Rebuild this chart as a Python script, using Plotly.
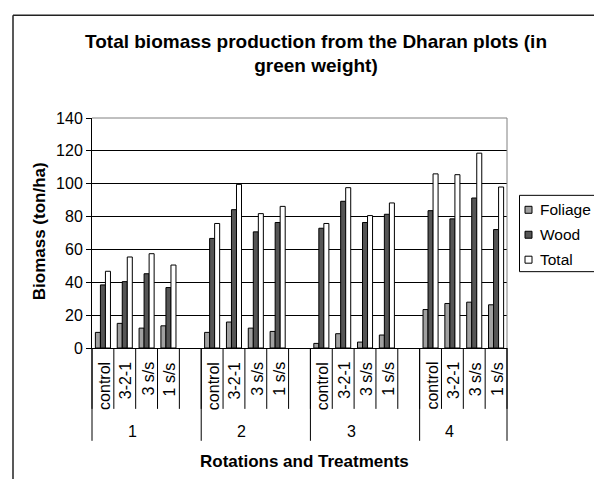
import plotly.graph_objects as go

# ---------------- data ----------------
rotations = ["1", "2", "3", "4"]
treatments = ["control", "3-2-1", "3 s/s", "1 s/s"]

foliage = [9.5, 15.0, 12.1, 13.5,
           9.5, 15.8, 12.1, 10.1,
           2.8, 8.7, 3.6, 7.9,
           23.4, 27.1, 27.9, 26.3]
wood = [38.4, 40.4, 45.2, 36.8,
        66.7, 84.2, 70.7, 76.4,
        72.9, 89.3, 76.4, 81.4,
        83.6, 78.6, 91.3, 72.1]
total = [46.7, 55.4, 57.4, 50.5,
         75.8, 99.6, 81.8, 86.2,
         75.8, 97.6, 80.6, 88.3,
         106.0, 105.5, 118.6, 98.0]

series_names = ["Foliage", "Wood", "Total"]
series_colors = ["#a0a0a0", "#555555", "#ffffff"]

# ---------------- categories (blank spacer slot after rotations 1-3) ----------------
cat_keys = []      # data categories (16)
all_slots = []     # axis slots (19) including blank spacers
slot_labels = []
group_slots = []   # (first index, count) for each rotation
for gi, r in enumerate(rotations):
    start = len(all_slots)
    for t in treatments:
        k = f"{r}|{t}"
        cat_keys.append(k)
        all_slots.append(k)
        slot_labels.append(t)
    if gi < len(rotations) - 1:
        all_slots.append(f"{r}|")
        slot_labels.append("")
    group_slots.append((start, len(all_slots) - start))

n_slots = len(all_slots)

# ---------------- geometry (pixels) ----------------
W, H = 594, 479
ML, MR, MT, MB = 92, 87, 118, 130.5
PW = W - ML - MR
PH = H - MT - MB

def px_x(p):
    return (p - ML) / PW

def px_y(p):
    return (H - MB - p) / PH

FONT = "Liberation Sans, Arial, sans-serif"

fig = go.Figure()
for name, vals, col in zip(series_names, [foliage, wood, total], series_colors):
    fig.add_trace(go.Bar(
        x=cat_keys, y=vals, name=name, showlegend=False,
        marker=dict(color=col, line=dict(color="black", width=1)),
    ))

shapes = []
# category dividers
for b in range(n_slots + 1):
    xf = b / n_slots
    shapes.append(dict(type="line", xref="paper", yref="paper",
                       x0=xf, x1=xf, y0=0, y1=-61 / PH,
                       line=dict(color="black", width=1)))
# group dividers
bounds = [s for s, c in group_slots] + [n_slots]
for b in bounds:
    xf = b / n_slots
    shapes.append(dict(type="line", xref="paper", yref="paper",
                       x0=xf, x1=xf, y0=0, y1=-93 / PH,
                       line=dict(color="black", width=1)))
# plot area border (top / right, gray)
shapes.append(dict(type="line", xref="paper", yref="paper", x0=0, x1=1, y0=1, y1=1,
                   line=dict(color="#808080", width=1), layer="above"))
shapes.append(dict(type="line", xref="paper", yref="paper", x0=1, x1=1, y0=0, y1=1,
                   line=dict(color="#808080", width=1), layer="above"))
# chart area border (top / left)
shapes.append(dict(type="line", xref="paper", yref="paper",
                   x0=px_x(13), x1=px_x(W + 10), y0=px_y(15), y1=px_y(15),
                   line=dict(color="#222222", width=1.5)))
shapes.append(dict(type="line", xref="paper", yref="paper",
                   x0=px_x(13), x1=px_x(13), y0=px_y(15), y1=px_y(H + 10),
                   line=dict(color="#222222", width=1.5)))

# legend box and swatches
shapes.append(dict(type="rect", xref="paper", yref="paper",
                   x0=px_x(519.5), x1=px_x(W + 10), y0=px_y(272), y1=px_y(195.5),
                   line=dict(color="black", width=1), fillcolor="white"))
leg_y = [210, 235, 260]
for ly, col in zip(leg_y, series_colors):
    shapes.append(dict(type="rect", xref="paper", yref="paper",
                       x0=px_x(525), x1=px_x(532), y0=px_y(ly + 3.5), y1=px_y(ly - 3.5),
                       line=dict(color="black", width=1), fillcolor=col))

annotations = []
for ly, name in zip(leg_y, series_names):
    annotations.append(dict(
        x=px_x(538.5), xref="paper", y=px_y(ly), yref="paper", text=name,
        showarrow=False, xanchor="left", yanchor="middle", borderpad=0,
        font=dict(family=FONT, size=15.5, color="black")))
# treatment labels
for k, lab in zip(all_slots, slot_labels):
    if lab:
        annotations.append(dict(
            x=k, xref="x", y=0, yref="paper", text=lab, showarrow=False,
            textangle=-90, xanchor="center", yanchor="top", yshift=-12, xshift=1,
            font=dict(family=FONT, size=16, color="black")))
# rotation labels
for r, (s, c) in zip(rotations, group_slots):
    annotations.append(dict(
        x=s + (c - 1) / 2, xref="x", y=px_y(432.5), yref="paper", text=r,
        showarrow=False, xanchor="center", yanchor="middle", xshift=-14,
        font=dict(family=FONT, size=16, color="black")))
# axis titles
annotations.append(dict(
    x=px_x(304.7), xref="paper", y=px_y(462), yref="paper",
    text="<b>Rotations and Treatments</b>", showarrow=False,
    xanchor="center", yanchor="middle",
    font=dict(family=FONT, size=17, color="black")))
annotations.append(dict(
    x=px_x(39), xref="paper", y=px_y(231.5), yref="paper",
    text="<b>Biomass (ton/ha)</b>", showarrow=False, textangle=-90,
    xanchor="center", yanchor="middle",
    font=dict(family=FONT, size=17, color="black")))

fig.update_layout(
    width=W, height=H,
    margin=dict(l=ML, r=MR, t=MT, b=MB, autoexpand=False),
    paper_bgcolor="white", plot_bgcolor="white",
    barmode="group", bargap=0.31, bargroupgap=0,
    showlegend=False,
    title=dict(
        text="<b>Total biomass production from the Dharan plots (in<br>green weight)</b>",
        x=px_x(316), xref="paper", xanchor="center",
        y=1 - 47.5 / H, yref="container", yanchor="top",
        font=dict(family=FONT, size=19, color="black")),
    xaxis=dict(type="category", categoryorder="array", categoryarray=all_slots,
               range=[-0.5, n_slots - 0.5], showticklabels=False, ticks="",
               showgrid=False, showline=True, linecolor="black", linewidth=1,
               zeroline=False, fixedrange=True),
    yaxis=dict(range=[0, 140], dtick=20, tick0=0, showgrid=True, gridcolor="black",
               gridwidth=1, ticks="outside", ticklen=5, tickcolor="black",
               showline=True, linecolor="black", linewidth=1, zeroline=False,
               tickfont=dict(family=FONT, size=16, color="black"), fixedrange=True),
    shapes=shapes, annotations=annotations,
)

fig.write_html(
    "out.html",
    config={"displayModeBar": False, "staticPlot": True},
    post_script="document.body.style.margin='0';document.body.style.padding='0';"
                "document.documentElement.style.overflow='hidden';",
)
